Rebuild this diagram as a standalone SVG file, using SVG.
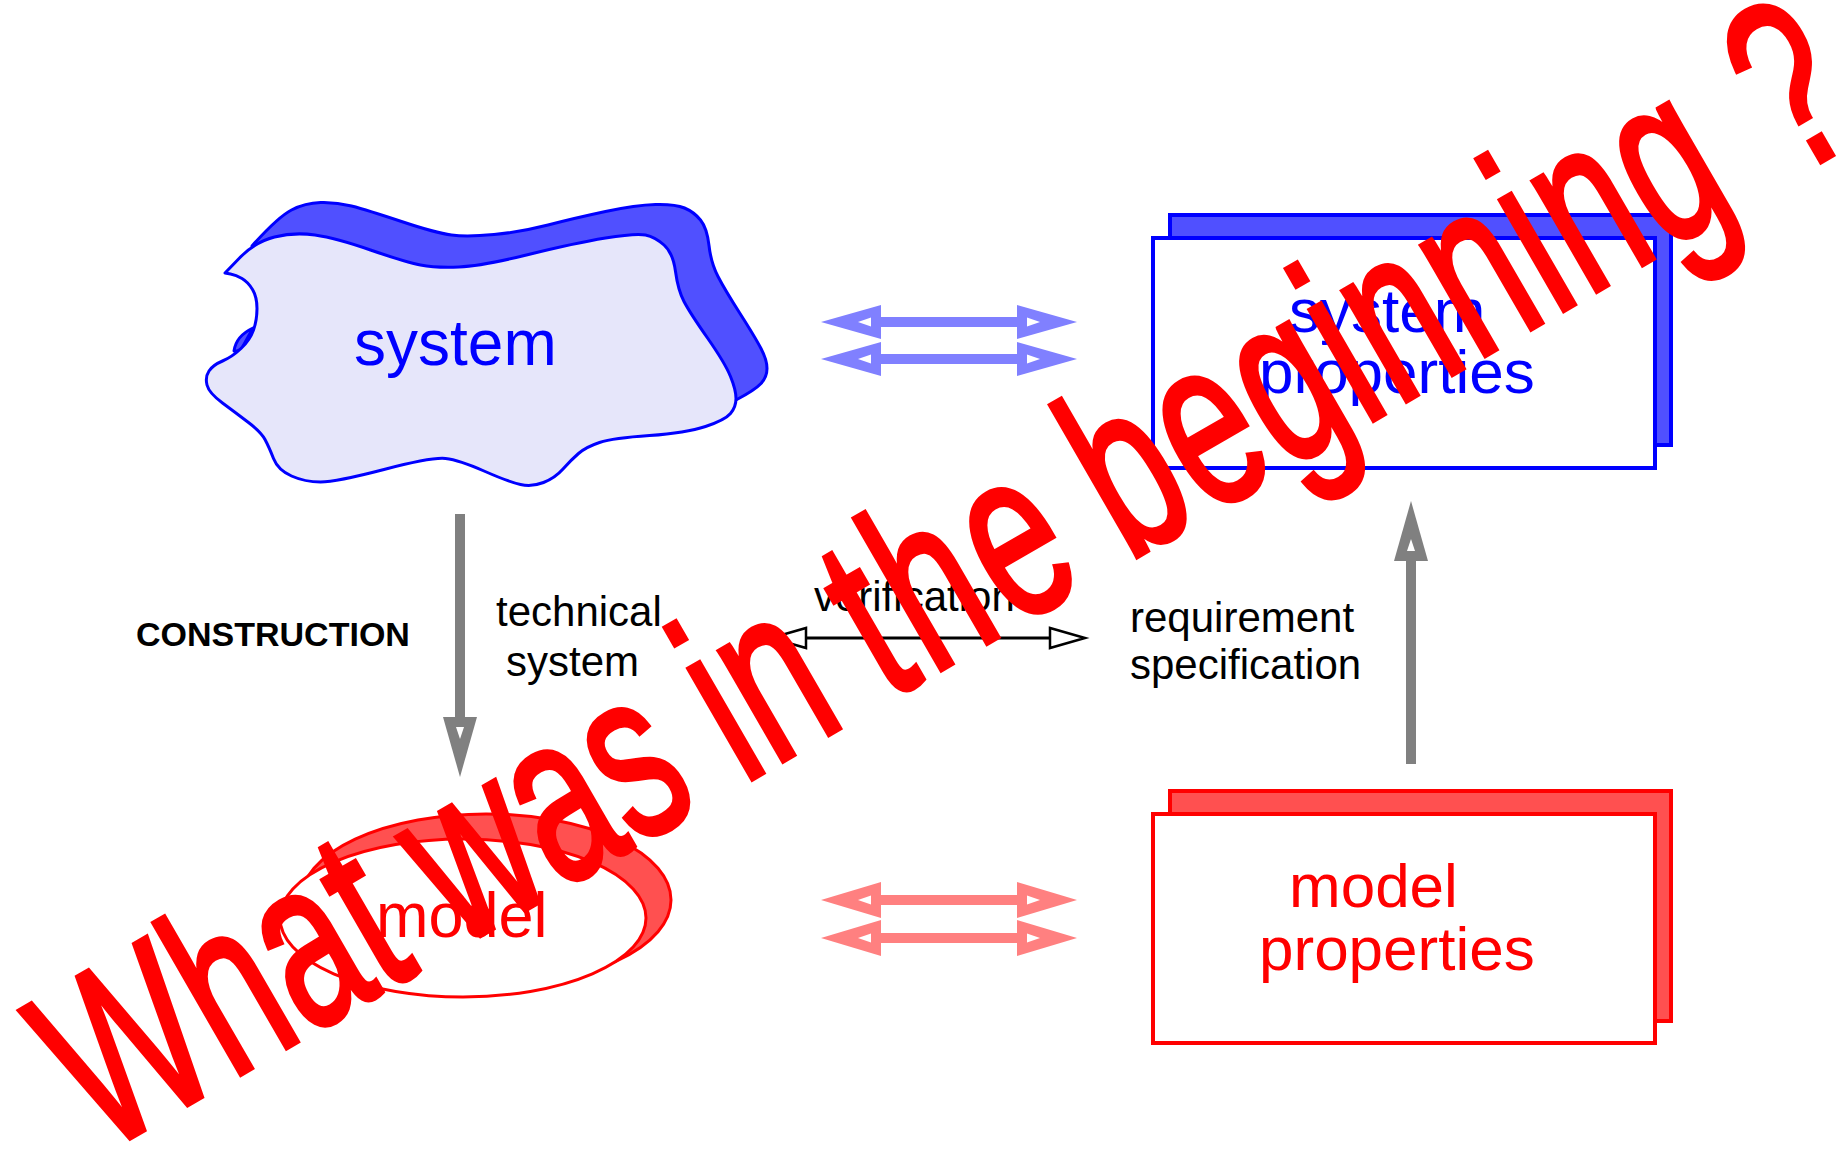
<svg xmlns="http://www.w3.org/2000/svg" width="1848" height="1151" viewBox="0 0 1848 1151">
<style>
text{font-family:"Liberation Sans",Arial,Helvetica,sans-serif}
.blue{fill:#0000ff}
.red{fill:#ff0000}
.blk{fill:#000000}
.edge{stroke-width:3;stroke-linejoin:round}
.bA{fill:#8080ff}
.rA{fill:#ff8080}
.gA{fill:#808080}
.w{fill:#ffffff}
</style>
<rect width="1848" height="1151" fill="#ffffff"/>

<g id="system">
  <path class="edge" fill="#5050ff" stroke="#0000ff" d="M252,246 Q278,217 291.5,210 Q305,203 320.5,202.5 Q336,202 351.5,206 Q367,210 401.5,221.5 Q436,233 451.5,235 Q467,237 494,234.5 Q521,232 548,225 Q575,218 605.5,211.5 Q636,205 655.5,204.5 Q675,204 684.5,208 Q694,212 700.5,220 Q707,228 709,245.5 Q711,263 718,276.5 Q725,290 740,313.5 Q755,337 761,348.5 Q767,360 767,368.5 Q767,377 761,383.5 Q755,390 736,400 L700,410 L400,400 L260,300 Z"/>
  <path class="edge" fill="#5050ff" stroke="#0000ff" d="M253,328 Q236,336 234,351 Q238,352 242,348 Z"/>
  <path class="edge" fill="#e6e6fa" stroke="#0000ff" d="M225,273 L240,257.5 Q255,242 274.5,237 Q294,232 315,235 Q336,238 370.5,250 Q405,262 420.5,265 Q436,268 459,267 Q482,266 528.5,254.5 Q575,243 605.5,238 Q636,233 645.5,235 Q655,237 664,245 Q673,253 675.5,271.5 Q678,290 684,301.5 Q690,313 707.5,338 Q725,363 730.5,376.5 Q736,390 736,398.5 Q736,407 730.5,413.5 Q725,420 705.5,426.5 Q686,433 649.5,435.5 Q613,438 599.5,442.5 Q586,447 578.5,453.5 Q571,460 563,469 Q555,478 543.5,482.5 Q532,487 520.5,484.5 Q509,482 484,471 Q459,460 445.5,458.5 Q432,457 384,469.5 Q336,482 320.5,482 Q305,482 291.5,476 Q278,470 273.5,458.5 Q269,447 265,439.5 Q261,432 248.5,422.5 Q236,413 222.5,403 Q209,393 207,385 Q205,377 209,371 Q213,365 222.5,361 Q232,357 241,348.5 Q250,340 253.5,330 Q257,320 257,308.5 Q257,297 252.5,289.5 Q248,282 242,278.5 Q236,275 230.5,274 Z"/>
  <text class="blue" x="354" y="365" font-size="64">system</text>
</g>

<g id="system-properties">
  <rect x="1170" y="215" width="501" height="230" fill="#5050ff" stroke="#0000ff" stroke-width="4"/>
  <rect x="1153" y="238" width="502" height="230" fill="#ffffff" stroke="#0000ff" stroke-width="4"/>
  <text class="blue" x="1289" y="332" font-size="62">system</text>
  <text class="blue" x="1259" y="393" font-size="62">properties</text>
</g>

<g id="model">
  <ellipse cx="486" cy="900" rx="185" ry="86" fill="#ff5050" stroke="#ff0000" stroke-width="3"/>
  <ellipse cx="463" cy="918" rx="183" ry="79" fill="#ffffff" stroke="#ff0000" stroke-width="3"/>
  <text class="red" x="376" y="937" font-size="63">model</text>
</g>

<g id="model-properties">
  <rect x="1170" y="791" width="501" height="230" fill="#ff5050" stroke="#ff0000" stroke-width="4"/>
  <rect x="1153" y="814" width="502" height="229" fill="#ffffff" stroke="#ff0000" stroke-width="4"/>
  <text class="red" x="1289" y="907" font-size="62">model</text>
  <text class="red" x="1259" y="970" font-size="62">properties</text>
</g>

<g id="labels">
  <text class="blk" x="136" y="646" font-size="34" font-weight="bold">CONSTRUCTION</text>
  <text class="blk" x="496" y="626" font-size="42">technical</text>
  <text class="blk" x="506" y="676" font-size="42">system</text>
  <text class="blk" x="814" y="611" font-size="42">verification</text>
  <text class="blk" x="1130" y="632" font-size="42">requirement</text>
  <text class="blk" x="1130" y="679" font-size="42">specification</text>
</g>

<g id="connectors">
  <g class="bA">
    <rect x="875" y="317" width="148" height="10"/>
    <polygon points="821,322 881,305 881,339"/>
    <polygon points="1077,322 1017,305 1017,339"/>
    <rect x="875" y="354" width="148" height="10"/>
    <polygon points="821,359 881,342 881,376"/>
    <polygon points="1077,359 1017,342 1017,376"/>
  </g>
  <g class="w">
    <polygon points="858,322 871,317.5 871,326.5"/>
    <polygon points="1040,322 1027,317.5 1027,326.5"/>
    <polygon points="858,359 871,354.5 871,363.5"/>
    <polygon points="1040,359 1027,354.5 1027,363.5"/>
  </g>
  <g class="rA">
    <rect x="875" y="895" width="148" height="10"/>
    <polygon points="821,900 881,882 881,918"/>
    <polygon points="1077,900 1017,882 1017,918"/>
    <rect x="875" y="933" width="148" height="10"/>
    <polygon points="821,938 881,920 881,956"/>
    <polygon points="1077,938 1017,920 1017,956"/>
  </g>
  <g class="w">
    <polygon points="858,900 871,895.5 871,904.5"/>
    <polygon points="1040,900 1027,895.5 1027,904.5"/>
    <polygon points="858,938 871,933.5 871,942.5"/>
    <polygon points="1040,938 1027,933.5 1027,942.5"/>
  </g>
  <g class="gA">
    <rect x="455" y="514" width="10" height="206"/>
    <polygon points="443,717 477,717 460,777"/>
  </g>
  <polygon class="w" points="456,727 464,727 460,739"/>
  <g class="gA">
    <rect x="1406" y="558" width="10" height="206"/>
    <polygon points="1394,561 1428,561 1411,501"/>
  </g>
  <polygon class="w" points="1407,551 1415,551 1411,539"/>
  <line x1="805" y1="638" x2="1050" y2="638" stroke="#000000" stroke-width="3"/>
  <polygon points="806,628 806,648 771,638" fill="#ffffff" stroke="#000000" stroke-width="2.5"/>
  <polygon points="1050,628 1050,648 1085,638" fill="#ffffff" stroke="#000000" stroke-width="2.5"/>
</g>

<g id="overlay">
  <text class="red" font-size="246" stroke="#ff0000" stroke-width="5" stroke-linejoin="miter" transform="translate(101,1155) rotate(-30) scale(0.645,0.98)">What was in <tspan dx="0 10 10">the </tspan><tspan dx="0 4 4 4 4 4 4 4 4">beginning</tspan><tspan dx="20"> ?</tspan></text>
</g>
</svg>
